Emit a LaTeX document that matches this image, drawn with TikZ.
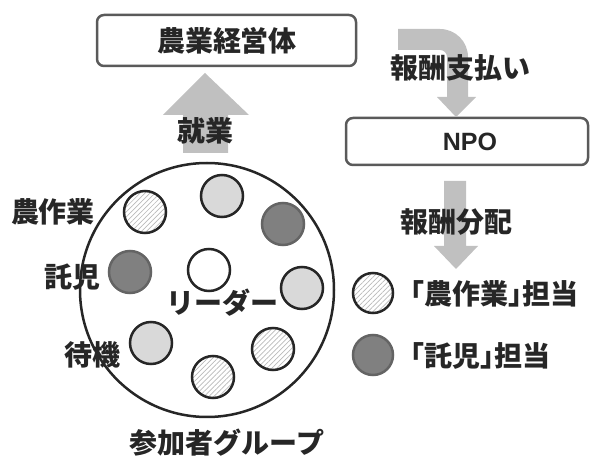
\documentclass[tikz,border=0pt]{standalone}
\usepackage{fontspec}
\setmainfont{Noto Sans CJK JP}
\newfontfamily\jpbr{Noto Sans CJK JP}[RawFeature=+halt]
\newfontfamily\latinfont{Liberation Sans}
\usetikzlibrary{patterns.meta}
\definecolor{arrowgray}{RGB}{192,192,192}
\definecolor{boxline}{RGB}{90,90,90}
\definecolor{lightfill}{RGB}{217,217,217}
\definecolor{darkfill}{RGB}{128,128,128}
\definecolor{darkline}{RGB}{100,100,100}
\definecolor{txt}{RGB}{38,38,38}
\tikzset{
  lbl/.style={text=txt,font=\fontsize{28}{31}\selectfont\bfseries,inner sep=0pt},
  roundbox/.style={draw=boxline,line width=2.5pt,rounded corners=7pt,fill=white},
  member/.style={circle,minimum size=42pt,inner sep=0pt,line width=2.5pt},
  hatched/.style={member,draw=txt,pattern={Lines[angle=45,distance=3.5pt,line width=0.7pt]},pattern color=gray!55},
  lightm/.style={member,draw=txt,fill=lightfill},
  darkm/.style={member,draw=darkline,fill=darkfill},
  whitem/.style={member,draw=txt,fill=white},
  bigarrow/.style={fill=arrowgray,draw=none}
}
\begin{document}
\begin{tikzpicture}[x=1pt,y=-1pt]
\useasboundingbox (0,0) rectangle (590,457);
% boxes
\draw[roundbox] (97,15) rectangle (356,66);
\node[lbl] (farm) at (227,41) {農業経営体};
\draw[roundbox] (346,118) rectangle (588,165);
\node[text=txt,font=\latinfont\fontsize{25}{28}\selectfont\bfseries,inner sep=0pt] (npo) at (470,142) {NPO};
% up arrow
\fill[bigarrow] (183,153) -- (183,115) -- (163,115) -- (205,73) -- (249,115) -- (228,115) -- (228,153) -- cycle;
\node[lbl] (work) at (205,131) {就業};
% curved arrow
\fill[bigarrow] (398,29) -- (440,29) arc[start angle=-90,end angle=0,radius=28] -- (468,97) -- (476,97) -- (456,117) -- (437,97) -- (447,97) -- (447,57) arc[start angle=0,end angle=-90,radius=7] -- (398,50) -- cycle;
\node[lbl] (pay) at (460,68) {報酬支払い};
% down arrow
\fill[bigarrow] (444,181) -- (466,181) -- (466,246) -- (478,246) -- (456,269) -- (434,246) -- (444,246) -- cycle;
\node[lbl] (dist) at (456,222) {報酬分配};
% group circle
\draw[line width=2.5pt,draw=txt] (207,290) circle[radius=127];
\node[hatched] (m1) at (145,212) {};
\node[lightm] (m2) at (222,196) {};
\node[darkm] (m3) at (283,224) {};
\node[darkm] (m4) at (130,272) {};
\node[whitem] (leader) at (209,270) {};
\node[lightm] (m5) at (302,288) {};
\node[lightm] (m6) at (151,343) {};
\node[hatched] (m7) at (273,349) {};
\node[hatched] (m8) at (213,377) {};
\node[lbl] (l1) at (53,212) {農作業};
\node[lbl] (l2) at (73,277) {託児};
\node[lbl] (l3) at (92,355) {待機};
\node[lbl] (l4) at (222,303) {リーダー};
\node[lbl] (group) at (227,443) {参加者グループ};
% legend
\node[hatched,minimum size=40pt] (k1) at (373,293) {};
\node[darkm,minimum size=40pt] (k2) at (373,355) {};
\node[lbl,anchor=west,font=\jpbr\fontsize{28}{31}\selectfont\bfseries] (t1) at (410,294) {「農作業」担当};
\node[lbl,anchor=west,font=\jpbr\fontsize{28}{31}\selectfont\bfseries] (t2) at (410,356) {「託児」担当};
\end{tikzpicture}
\end{document}
